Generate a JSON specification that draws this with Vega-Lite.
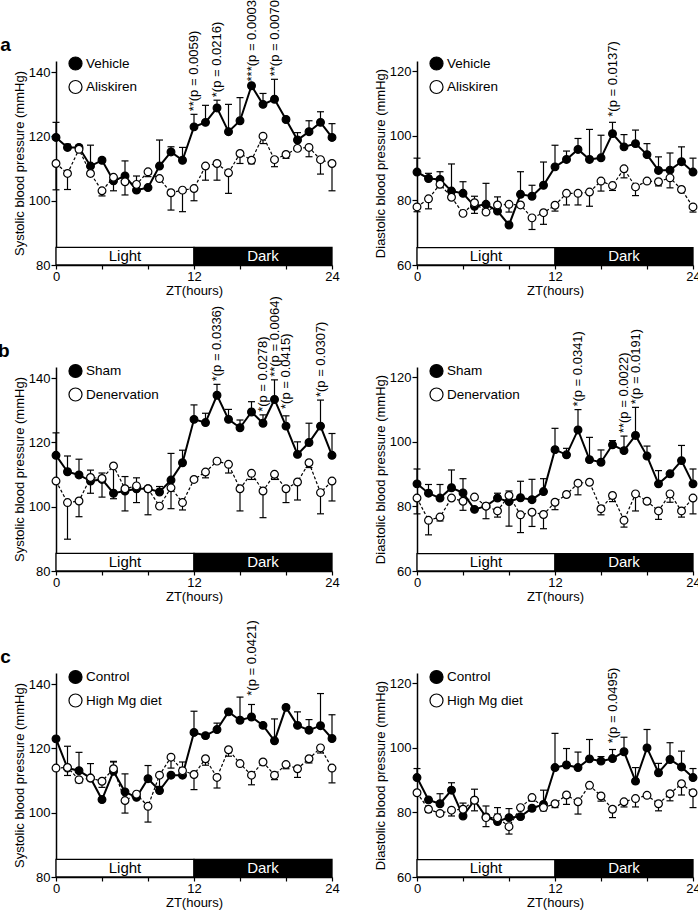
{
"$schema": "https://vega.github.io/schema/vega-lite/v6.json",
"background": "white",
"autosize": {"type": "none"},
"padding": {"left": 56, "top": 61, "right": 642, "bottom": 855},
"columns": 2,
"spacing": {"row": 102, "column": 85},
"bounds": "flush",
"resolve": {"scale": {"x": "independent", "y": "independent", "fill": "independent"}, "legend": {"fill": "independent"}},
"datasets": {
"phase": [{"start": 0, "end": 12, "phase": "Light"}, {"start": 12, "end": 24, "phase": "Dark"}],
"aL": [
{"h":0,"g":"Vehicle","v":119.7,"e":124.4},{"h":1,"g":"Vehicle","v":116.6,"e":117.6},{"h":2,"g":"Vehicle","v":116.6,"e":117.3},{"h":3,"g":"Vehicle","v":110.8,"e":117.3},{"h":4,"g":"Vehicle","v":112.6,"e":113.2},{"h":5,"g":"Vehicle","v":106.2,"e":107},{"h":6,"g":"Vehicle","v":107.7,"e":112.4},{"h":7,"g":"Vehicle","v":103.3,"e":103.3},{"h":8,"g":"Vehicle","v":104.1,"e":104.1},{"h":9,"g":"Vehicle","v":110.8,"e":118.9},{"h":10,"g":"Vehicle","v":115.2,"e":116.8},{"h":11,"g":"Vehicle","v":112.6,"e":116.6},{"h":12,"g":"Vehicle","v":123,"e":126.9},{"h":13,"g":"Vehicle","v":124.4,"e":129.7},{"h":14,"g":"Vehicle","v":128.9,"e":131.3},{"h":15,"g":"Vehicle","v":121.5,"e":130},{"h":16,"g":"Vehicle","v":124.9,"e":132.1},{"h":17,"g":"Vehicle","v":135.8,"e":135.8},{"h":18,"g":"Vehicle","v":130,"e":133.4},{"h":19,"g":"Vehicle","v":131.6,"e":137.8},{"h":20,"g":"Vehicle","v":125.3,"e":125.3},{"h":21,"g":"Vehicle","v":118.9,"e":121.2},{"h":22,"g":"Vehicle","v":121.5,"e":124.9},{"h":23,"g":"Vehicle","v":124.4,"e":127.7},{"h":24,"g":"Vehicle","v":119.7,"e":124},
{"h":0,"g":"Aliskiren","v":111.6,"e":103.4},{"h":1,"g":"Aliskiren","v":108.5,"e":103.5},{"h":2,"g":"Aliskiren","v":116,"e":115.3},{"h":3,"g":"Aliskiren","v":108.5,"e":107.8},{"h":4,"g":"Aliskiren","v":103.1,"e":101.5},{"h":5,"g":"Aliskiren","v":107.3,"e":103.1},{"h":6,"g":"Aliskiren","v":105.9,"e":101.8},{"h":7,"g":"Aliskiren","v":105.1,"e":107.7},{"h":8,"g":"Aliskiren","v":109,"e":107.5},{"h":9,"g":"Aliskiren","v":106.9,"e":106.9},{"h":10,"g":"Aliskiren","v":102.5,"e":97.1},{"h":11,"g":"Aliskiren","v":103.3,"e":96.6},{"h":12,"g":"Aliskiren","v":103.8,"e":100},{"h":13,"g":"Aliskiren","v":110.8,"e":106.4},{"h":14,"g":"Aliskiren","v":111.6,"e":106.4},{"h":15,"g":"Aliskiren","v":108.7,"e":102.3},{"h":16,"g":"Aliskiren","v":114.7,"e":111.6},{"h":17,"g":"Aliskiren","v":112.6,"e":111.5},{"h":18,"g":"Aliskiren","v":120.1,"e":117.8},{"h":19,"g":"Aliskiren","v":112.8,"e":110.6},{"h":20,"g":"Aliskiren","v":114.4,"e":113.2},{"h":21,"g":"Aliskiren","v":116.3,"e":116.3},{"h":22,"g":"Aliskiren","v":116.6,"e":113.7},{"h":23,"g":"Aliskiren","v":112.8,"e":108.3},{"h":24,"g":"Aliskiren","v":111.6,"e":103.1}],
"aLa": [{"h":12,"y":126.9,"t":"**(p = 0.0059)"},{"h":14,"y":131.3,"t":"*(p = 0.0216)"},{"h":17,"y":136.2,"t":"***(p = 0.0003)"},{"h":19,"y":137.8,"t":"**(p = 0.0070)"}],
"aR": [
{"h":0,"g":"Vehicle","v":88.8,"e":93.1},{"h":1,"g":"Vehicle","v":86.8,"e":88.4},{"h":2,"g":"Vehicle","v":86.5,"e":88.9},{"h":3,"g":"Vehicle","v":82.9,"e":91.3},{"h":4,"g":"Vehicle","v":82.2,"e":85.8},{"h":5,"g":"Vehicle","v":78.2,"e":81.3},{"h":6,"g":"Vehicle","v":78.8,"e":85.3},{"h":7,"g":"Vehicle","v":76.7,"e":81.1},{"h":8,"g":"Vehicle","v":72.4,"e":72.4},{"h":9,"g":"Vehicle","v":81.9,"e":88.9},{"h":10,"g":"Vehicle","v":81.3,"e":84.7},{"h":11,"g":"Vehicle","v":84.7,"e":91.9},{"h":12,"g":"Vehicle","v":90.4,"e":97.1},{"h":13,"g":"Vehicle","v":92.7,"e":95.3},{"h":14,"g":"Vehicle","v":95.8,"e":99.2},{"h":15,"g":"Vehicle","v":92.7,"e":102},{"h":16,"g":"Vehicle","v":93.2,"e":100.2},{"h":17,"g":"Vehicle","v":100.7,"e":104.2},{"h":18,"g":"Vehicle","v":96.6,"e":100.4},{"h":19,"g":"Vehicle","v":97.6,"e":101.8},{"h":20,"g":"Vehicle","v":94.2,"e":97.6},{"h":21,"g":"Vehicle","v":89.3,"e":93.5},{"h":22,"g":"Vehicle","v":89.4,"e":94.7},{"h":23,"g":"Vehicle","v":92,"e":96.6},{"h":24,"g":"Vehicle","v":88.8,"e":93.1},
{"h":0,"g":"Aliskiren","v":78,"e":76.5},{"h":1,"g":"Aliskiren","v":80.5,"e":77.4},{"h":2,"g":"Aliskiren","v":85,"e":84},{"h":3,"g":"Aliskiren","v":81,"e":80.5},{"h":4,"g":"Aliskiren","v":76,"e":75.5},{"h":5,"g":"Aliskiren","v":79.3,"e":76},{"h":6,"g":"Aliskiren","v":76.4,"e":76},{"h":7,"g":"Aliskiren","v":78.6,"e":76.7},{"h":8,"g":"Aliskiren","v":78.8,"e":76.4},{"h":9,"g":"Aliskiren","v":78.6,"e":78.6},{"h":10,"g":"Aliskiren","v":74.6,"e":71},{"h":11,"g":"Aliskiren","v":76.2,"e":72.6},{"h":12,"g":"Aliskiren","v":78.5,"e":76.7},{"h":13,"g":"Aliskiren","v":82.2,"e":78.6},{"h":14,"g":"Aliskiren","v":82.2,"e":78.6},{"h":15,"g":"Aliskiren","v":82.6,"e":78.2},{"h":16,"g":"Aliskiren","v":86,"e":82.9},{"h":17,"g":"Aliskiren","v":84.6,"e":83.1},{"h":18,"g":"Aliskiren","v":89.8,"e":87},{"h":19,"g":"Aliskiren","v":84.2,"e":81.5},{"h":20,"g":"Aliskiren","v":86,"e":85.5},{"h":21,"g":"Aliskiren","v":85.8,"e":84.5},{"h":22,"g":"Aliskiren","v":87,"e":83.9},{"h":23,"g":"Aliskiren","v":83.4,"e":83},{"h":24,"g":"Aliskiren","v":78,"e":76.4}],
"aRa": [{"h":17,"y":105,"t":"*(p = 0.0137)"}],
"bL": [
{"h":0,"g":"Sham","v":116,"e":123},{"h":1,"g":"Sham","v":110.9,"e":115.8},{"h":2,"g":"Sham","v":109.9,"e":114.8},{"h":3,"g":"Sham","v":108,"e":111.4},{"h":4,"g":"Sham","v":108.5,"e":110.5},{"h":5,"g":"Sham","v":104.2,"e":104.2},{"h":6,"g":"Sham","v":104.9,"e":98.7},{"h":7,"g":"Sham","v":105.6,"e":109},{"h":8,"g":"Sham","v":105.6,"e":105.6},{"h":9,"g":"Sham","v":104.6,"e":106.3},{"h":10,"g":"Sham","v":108.3,"e":116.6},{"h":11,"g":"Sham","v":113.7,"e":117.6},{"h":12,"g":"Sham","v":127.2,"e":131.7},{"h":13,"g":"Sham","v":126.2,"e":129.1},{"h":14,"g":"Sham","v":134.7,"e":138.1},{"h":15,"g":"Sham","v":127.2,"e":130.3},{"h":16,"g":"Sham","v":124.6,"e":127},{"h":17,"g":"Sham","v":129.5,"e":132.7},{"h":18,"g":"Sham","v":126,"e":128.6},{"h":19,"g":"Sham","v":133.4,"e":139.5},{"h":20,"g":"Sham","v":125.1,"e":128.3},{"h":21,"g":"Sham","v":116.3,"e":120.2},{"h":22,"g":"Sham","v":120,"e":126},{"h":23,"g":"Sham","v":125.1,"e":133.2},{"h":24,"g":"Sham","v":116,"e":122.8},
{"h":0,"g":"Denervation","v":108,"e":108},{"h":1,"g":"Denervation","v":101.3,"e":89.9},{"h":2,"g":"Denervation","v":101.8,"e":96.9},{"h":3,"g":"Denervation","v":109.1,"e":104.2},{"h":4,"g":"Denervation","v":108.8,"e":103},{"h":5,"g":"Denervation","v":112.7,"e":102.5},{"h":6,"g":"Denervation","v":105.6,"e":109.4},{"h":7,"g":"Denervation","v":106.5,"e":101.3},{"h":8,"g":"Denervation","v":105.6,"e":97.5},{"h":9,"g":"Denervation","v":100.2,"e":100.2},{"h":10,"g":"Denervation","v":105.9,"e":99.4},{"h":11,"g":"Denervation","v":101.3,"e":99},{"h":12,"g":"Denervation","v":108.5,"e":108.5},{"h":13,"g":"Denervation","v":110.8,"e":109},{"h":14,"g":"Denervation","v":114.2,"e":114.2},{"h":15,"g":"Denervation","v":113.2,"e":110.5},{"h":16,"g":"Denervation","v":105.6,"e":98.7},{"h":17,"g":"Denervation","v":110.4,"e":108.5},{"h":18,"g":"Denervation","v":104.9,"e":96.6},{"h":19,"g":"Denervation","v":110.1,"e":108.5},{"h":20,"g":"Denervation","v":105.6,"e":101.3},{"h":21,"g":"Denervation","v":107.7,"e":102.1},{"h":22,"g":"Denervation","v":113.7,"e":112.2},{"h":23,"g":"Denervation","v":104.4,"e":97.8},{"h":24,"g":"Denervation","v":108,"e":101.8}],
"bLa": [{"h":14,"y":138.1,"t":"*(p = 0.0336)"},{"h":18,"y":128.6,"t":"*(p = 0.0278)"},{"h":19,"y":139.5,"t":"**(p = 0.0064)"},{"h":20,"y":129.5,"t":"*(p = 0.0415)"},{"h":23,"y":133.2,"t":"*(p = 0.0307)"}],
"bR": [
{"h":0,"g":"Sham","v":87,"e":91.6},{"h":1,"g":"Sham","v":84.1,"e":86.8},{"h":2,"g":"Sham","v":82.6,"e":86.8},{"h":3,"g":"Sham","v":85.8,"e":91.3},{"h":4,"g":"Sham","v":84.2,"e":88.6},{"h":5,"g":"Sham","v":79.1,"e":79.1},{"h":6,"g":"Sham","v":80.1,"e":80.1},{"h":7,"g":"Sham","v":82.6,"e":84.1},{"h":8,"g":"Sham","v":81.5,"e":73.9},{"h":9,"g":"Sham","v":82.7,"e":87.8},{"h":10,"g":"Sham","v":82.1,"e":88.4},{"h":11,"g":"Sham","v":84.6,"e":88.6},{"h":12,"g":"Sham","v":97.6,"e":104.2},{"h":13,"g":"Sham","v":96,"e":98},{"h":14,"g":"Sham","v":103.7,"e":110},{"h":15,"g":"Sham","v":94.5,"e":101.4},{"h":16,"g":"Sham","v":93.7,"e":97.5},{"h":17,"g":"Sham","v":99.1,"e":100.4},{"h":18,"g":"Sham","v":97.3,"e":101.8},{"h":19,"g":"Sham","v":102,"e":110.7},{"h":20,"g":"Sham","v":95.6,"e":98.7},{"h":21,"g":"Sham","v":87,"e":91.1},{"h":22,"g":"Sham","v":90.1,"e":90.6},{"h":23,"g":"Sham","v":94.2,"e":98.9},{"h":24,"g":"Sham","v":87,"e":91.6},
{"h":0,"g":"Denervation","v":82.6,"e":77.7},{"h":1,"g":"Denervation","v":75.7,"e":71.2},{"h":2,"g":"Denervation","v":76.7,"e":75.5},{"h":3,"g":"Denervation","v":82.6,"e":82.6},{"h":4,"g":"Denervation","v":81.6,"e":78.8},{"h":5,"g":"Denervation","v":82.9,"e":82.9},{"h":6,"g":"Denervation","v":80.1,"e":76.2},{"h":7,"g":"Denervation","v":78.6,"e":76.7},{"h":8,"g":"Denervation","v":83.4,"e":84.8},{"h":9,"g":"Denervation","v":77.4,"e":71.9},{"h":10,"g":"Denervation","v":78.2,"e":73.8},{"h":11,"g":"Denervation","v":77.5,"e":73.1},{"h":12,"g":"Denervation","v":81.3,"e":79},{"h":13,"g":"Denervation","v":83.7,"e":83.7},{"h":14,"g":"Denervation","v":87.2,"e":83.6},{"h":15,"g":"Denervation","v":87.5,"e":87.5},{"h":16,"g":"Denervation","v":79.3,"e":77.4},{"h":17,"g":"Denervation","v":83.4,"e":81.5},{"h":18,"g":"Denervation","v":75.7,"e":73.6},{"h":19,"g":"Denervation","v":83.9,"e":78.6},{"h":20,"g":"Denervation","v":81.6,"e":81.6},{"h":21,"g":"Denervation","v":78.6,"e":76},{"h":22,"g":"Denervation","v":83.9,"e":81.3},{"h":23,"g":"Denervation","v":78.6,"e":76.7},{"h":24,"g":"Denervation","v":82.6,"e":77.7}],
"bRa": [{"h":14,"y":110,"t":"*(p = 0.0341)"},{"h":18,"y":101.8,"t":"**(p = 0.0022)"},{"h":19,"y":110.7,"t":"*(p = 0.0191)"}],
"cL": [
{"h":0,"g":"Control","v":123,"e":123},{"h":1,"g":"Control","v":113.9,"e":120.7},{"h":2,"g":"Control","v":113.1,"e":118.8},{"h":3,"g":"Control","v":110.8,"e":115.3},{"h":4,"g":"Control","v":104.1,"e":104.1},{"h":5,"g":"Control","v":112.9,"e":115.8},{"h":6,"g":"Control","v":106.5,"e":112.1},{"h":7,"g":"Control","v":104.8,"e":104.8},{"h":8,"g":"Control","v":110.6,"e":114.7},{"h":9,"g":"Control","v":106.9,"e":106.9},{"h":10,"g":"Control","v":111.7,"e":111.7},{"h":11,"g":"Control","v":111.7,"e":111.7},{"h":12,"g":"Control","v":125,"e":131.6},{"h":13,"g":"Control","v":124,"e":124},{"h":14,"g":"Control","v":125.9,"e":127.9},{"h":15,"g":"Control","v":131.4,"e":131.4},{"h":16,"g":"Control","v":128.8,"e":136},{"h":17,"g":"Control","v":129.8,"e":133.7},{"h":18,"g":"Control","v":127.2,"e":127.2},{"h":19,"g":"Control","v":122.4,"e":129.2},{"h":20,"g":"Control","v":132.8,"e":133.4},{"h":21,"g":"Control","v":127.2,"e":131.4},{"h":22,"g":"Control","v":125.7,"e":129},{"h":23,"g":"Control","v":127.1,"e":137.1},{"h":24,"g":"Control","v":123.1,"e":130.5},
{"h":0,"g":"High Mg diet","v":113.9,"e":113.9},{"h":1,"g":"High Mg diet","v":114.1,"e":111.6},{"h":2,"g":"High Mg diet","v":110.3,"e":109.3},{"h":3,"g":"High Mg diet","v":110.8,"e":110.8},{"h":4,"g":"High Mg diet","v":109.8,"e":107.9},{"h":5,"g":"High Mg diet","v":113.7,"e":116},{"h":6,"g":"High Mg diet","v":103.8,"e":99.9},{"h":7,"g":"High Mg diet","v":105.8,"e":105.8},{"h":8,"g":"High Mg diet","v":102,"e":97.1},{"h":9,"g":"High Mg diet","v":111.7,"e":108.2},{"h":10,"g":"High Mg diet","v":117.3,"e":113.9},{"h":11,"g":"High Mg diet","v":113.1,"e":115.8},{"h":12,"g":"High Mg diet","v":111.9,"e":107.2},{"h":13,"g":"High Mg diet","v":116.8,"e":114.8},{"h":14,"g":"High Mg diet","v":111,"e":107.7},{"h":15,"g":"High Mg diet","v":119.6,"e":117.6},{"h":16,"g":"High Mg diet","v":115.3,"e":115.3},{"h":17,"g":"High Mg diet","v":111.7,"e":108.7},{"h":18,"g":"High Mg diet","v":115.8,"e":115.8},{"h":19,"g":"High Mg diet","v":111.7,"e":110.3},{"h":20,"g":"High Mg diet","v":115,"e":113.7},{"h":21,"g":"High Mg diet","v":113.7,"e":111},{"h":22,"g":"High Mg diet","v":116.8,"e":115.5},{"h":23,"g":"High Mg diet","v":120.2,"e":118.6},{"h":24,"g":"High Mg diet","v":113.9,"e":109.3}],
"cLa": [{"h":17,"y":135.5,"t":"*(p = 0.0421)"}],
"cR": [
{"h":0,"g":"Control","v":90.8,"e":93.6},{"h":1,"g":"Control","v":83.9,"e":83.9},{"h":2,"g":"Control","v":82.7,"e":85.8},{"h":3,"g":"Control","v":86.9,"e":89.2},{"h":4,"g":"Control","v":78.9,"e":82.9},{"h":5,"g":"Control","v":83.8,"e":87.2},{"h":6,"g":"Control","v":78.6,"e":82},{"h":7,"g":"Control","v":77.2,"e":81.5},{"h":8,"g":"Control","v":78.4,"e":81.2},{"h":9,"g":"Control","v":78.7,"e":78.7},{"h":10,"g":"Control","v":81.3,"e":81.3},{"h":11,"g":"Control","v":82.5,"e":86.9},{"h":12,"g":"Control","v":93.9,"e":104.5},{"h":13,"g":"Control","v":94.7,"e":99.8},{"h":14,"g":"Control","v":93.9,"e":98.7},{"h":15,"g":"Control","v":96.6,"e":102.6},{"h":16,"g":"Control","v":95.9,"e":97.3},{"h":17,"g":"Control","v":96.7,"e":99.5},{"h":18,"g":"Control","v":98.8,"e":103.3},{"h":19,"g":"Control","v":89.7,"e":93.9},{"h":20,"g":"Control","v":100,"e":105.7},{"h":21,"g":"Control","v":92.3,"e":95.2},{"h":22,"g":"Control","v":96.4,"e":101.6},{"h":23,"g":"Control","v":94.1,"e":99},{"h":24,"g":"Control","v":90.8,"e":93.6},
{"h":0,"g":"High Mg diet","v":86.1,"e":86.1},{"h":1,"g":"High Mg diet","v":81,"e":80},{"h":2,"g":"High Mg diet","v":79.7,"e":79},{"h":3,"g":"High Mg diet","v":80.7,"e":78.9},{"h":4,"g":"High Mg diet","v":81,"e":78.5},{"h":5,"g":"High Mg diet","v":83.8,"e":80.5},{"h":6,"g":"High Mg diet","v":78.4,"e":75.6},{"h":7,"g":"High Mg diet","v":78.4,"e":79.5},{"h":8,"g":"High Mg diet","v":75.6,"e":73.3},{"h":9,"g":"High Mg diet","v":81.5,"e":81.5},{"h":10,"g":"High Mg diet","v":84.6,"e":83.5},{"h":11,"g":"High Mg diet","v":81.5,"e":80.5},{"h":12,"g":"High Mg diet","v":82.7,"e":81.5},{"h":13,"g":"High Mg diet","v":85.4,"e":82.5},{"h":14,"g":"High Mg diet","v":83.3,"e":79.5},{"h":15,"g":"High Mg diet","v":88.4,"e":88.4},{"h":16,"g":"High Mg diet","v":85.1,"e":83.5},{"h":17,"g":"High Mg diet","v":81,"e":78.4},{"h":18,"g":"High Mg diet","v":83.3,"e":81.7},{"h":19,"g":"High Mg diet","v":84.3,"e":81.7},{"h":20,"g":"High Mg diet","v":85.3,"e":85.3},{"h":21,"g":"High Mg diet","v":82.7,"e":80.5},{"h":22,"g":"High Mg diet","v":85.8,"e":83.6},{"h":23,"g":"High Mg diet","v":88.9,"e":85.4},{"h":24,"g":"High Mg diet","v":86.1,"e":81.5}],
"cRa": [{"h":17,"y":100.5,"t":"*(p = 0.0495)"}]
},
"concat": [
{"width": 276, "height": 204, "data": {"name": "aL"},
 "title": {"text": "a", "orient": "left", "anchor": "end", "frame": "group", "angle": 0, "align": "right", "baseline": "bottom", "offset": 1, "dx": 9, "dy": -6, "fontSize": 19, "fontWeight": "bold", "color": "black"},
 "layer": [
  {"data": {"name": "phase"}, "mark": {"type": "rect", "stroke": "black", "strokeWidth": 1.3},
   "encoding": {"x": {"field": "start", "type": "quantitative", "scale": {"domain": [0, 24], "nice": false, "zero": false}, "axis": {"values": [0,4,8,12,16,20,24], "labelExpr": "datum.value % 12 == 0 ? datum.label : ''", "title": "ZT(hours)", "tickSize": 4, "labelPadding": 1, "titlePadding": 1, "labelFlush": false, "labelOverlap": false}},
    "x2": {"field": "end"},
    "y": {"datum": 80, "type": "quantitative", "scale": {"domain": [80, 143.5], "nice": false, "zero": false}, "axis": {"values": [80,90,100,110,120,130,140], "labelExpr": "datum.value % 20 == 0 ? datum.label : ''", "title": "Systolic blood pressure  (mmHg)", "titlePadding": 2, "labelOverlap": false}},
    "y2": {"datum": 85.5},
    "fill": {"condition": {"test": "datum.phase == 'Dark'", "value": "black"}, "value": "white"}}},
  {"data": {"name": "phase"}, "transform": [{"calculate": "(datum.start + datum.end) / 2", "as": "mid"}], "mark": {"type": "text", "fontSize": 15, "baseline": "middle"},
   "encoding": {"x": {"field": "mid", "type": "quantitative"}, "y": {"datum": 82.75, "type": "quantitative"}, "text": {"field": "phase"}, "color": {"condition": {"test": "datum.phase == 'Dark'", "value": "white"}, "value": "black"}}},
  {"transform": [{"filter": "datum.g == 'Vehicle'"}], "mark": {"type": "line", "color": "black", "strokeWidth": 2}, "encoding": {"x": {"field": "h", "type": "quantitative"}, "y": {"field": "v", "type": "quantitative"}}},
  {"transform": [{"filter": "datum.g == 'Aliskiren'"}], "mark": {"type": "line", "color": "black", "strokeWidth": 1.2, "strokeDash": [3, 2]}, "encoding": {"x": {"field": "h", "type": "quantitative"}, "y": {"field": "v", "type": "quantitative"}}},
  {"mark": {"type": "rule", "color": "black", "strokeWidth": 1.2}, "encoding": {"x": {"field": "h", "type": "quantitative"}, "y": {"field": "v", "type": "quantitative"}, "y2": {"field": "e"}}},
  {"mark": {"type": "tick", "color": "black", "orient": "horizontal", "size": 7, "thickness": 1.2, "opacity": 1}, "encoding": {"x": {"field": "h", "type": "quantitative"}, "y": {"field": "e", "type": "quantitative"}}},
  {"mark": {"type": "point", "shape": "circle", "filled": true, "size": 60, "stroke": "black", "strokeWidth": 1.2, "opacity": 1}, "encoding": {"x": {"field": "h", "type": "quantitative"}, "y": {"field": "v", "type": "quantitative"}, "fill": {"field": "g", "type": "nominal", "scale": {"domain": ["Vehicle", "Aliskiren"], "range": ["black", "white"]}, "legend": {"title": null, "orient": "none", "legendX": 12, "legendY": -5}}}},
  {"data": {"name": "aLa"}, "mark": {"type": "text", "angle": 270, "align": "left", "baseline": "middle", "dx": 3, "fontSize": 13}, "encoding": {"x": {"field": "h", "type": "quantitative"}, "y": {"field": "y", "type": "quantitative"}, "text": {"field": "t"}}}
 ]},
{"width": 276, "height": 204, "data": {"name": "aR"},
 "layer": [
  {"data": {"name": "phase"}, "mark": {"type": "rect", "stroke": "black", "strokeWidth": 1.3},
   "encoding": {"x": {"field": "start", "type": "quantitative", "scale": {"domain": [0, 24], "nice": false, "zero": false}, "axis": {"values": [0,4,8,12,16,20,24], "labelExpr": "datum.value % 12 == 0 ? datum.label : ''", "title": "ZT(hours)", "tickSize": 4, "labelPadding": 1, "titlePadding": 1, "labelFlush": false, "labelOverlap": false}},
    "x2": {"field": "end"},
    "y": {"datum": 60, "type": "quantitative", "scale": {"domain": [60, 123.2], "nice": false, "zero": false}, "axis": {"values": [60,70,80,90,100,110,120], "labelExpr": "datum.value % 20 == 0 ? datum.label : ''", "title": "Diastolic blood pressure (mmHg)", "titlePadding": 2, "labelOverlap": false}},
    "y2": {"datum": 65.4},
    "fill": {"condition": {"test": "datum.phase == 'Dark'", "value": "black"}, "value": "white"}}},
  {"data": {"name": "phase"}, "transform": [{"calculate": "(datum.start + datum.end) / 2", "as": "mid"}], "mark": {"type": "text", "fontSize": 15, "baseline": "middle"},
   "encoding": {"x": {"field": "mid", "type": "quantitative"}, "y": {"datum": 62.7, "type": "quantitative"}, "text": {"field": "phase"}, "color": {"condition": {"test": "datum.phase == 'Dark'", "value": "white"}, "value": "black"}}},
  {"transform": [{"filter": "datum.g == 'Vehicle'"}], "mark": {"type": "line", "color": "black", "strokeWidth": 2}, "encoding": {"x": {"field": "h", "type": "quantitative"}, "y": {"field": "v", "type": "quantitative"}}},
  {"transform": [{"filter": "datum.g == 'Aliskiren'"}], "mark": {"type": "line", "color": "black", "strokeWidth": 1.2, "strokeDash": [3, 2]}, "encoding": {"x": {"field": "h", "type": "quantitative"}, "y": {"field": "v", "type": "quantitative"}}},
  {"mark": {"type": "rule", "color": "black", "strokeWidth": 1.2}, "encoding": {"x": {"field": "h", "type": "quantitative"}, "y": {"field": "v", "type": "quantitative"}, "y2": {"field": "e"}}},
  {"mark": {"type": "tick", "color": "black", "orient": "horizontal", "size": 7, "thickness": 1.2, "opacity": 1}, "encoding": {"x": {"field": "h", "type": "quantitative"}, "y": {"field": "e", "type": "quantitative"}}},
  {"mark": {"type": "point", "shape": "circle", "filled": true, "size": 60, "stroke": "black", "strokeWidth": 1.2, "opacity": 1}, "encoding": {"x": {"field": "h", "type": "quantitative"}, "y": {"field": "v", "type": "quantitative"}, "fill": {"field": "g", "type": "nominal", "scale": {"domain": ["Vehicle", "Aliskiren"], "range": ["black", "white"]}, "legend": {"title": null, "orient": "none", "legendX": 12, "legendY": -5}}}},
  {"data": {"name": "aRa"}, "mark": {"type": "text", "angle": 270, "align": "left", "baseline": "middle", "dx": 3, "fontSize": 13}, "encoding": {"x": {"field": "h", "type": "quantitative"}, "y": {"field": "y", "type": "quantitative"}, "text": {"field": "t"}}}
 ]},
{"width": 276, "height": 204, "data": {"name": "bL"},
 "title": {"text": "b", "orient": "left", "anchor": "end", "frame": "group", "angle": 0, "align": "right", "baseline": "bottom", "offset": 1, "dx": 9, "dy": -6, "fontSize": 19, "fontWeight": "bold", "color": "black"},
 "layer": [
  {"data": {"name": "phase"}, "mark": {"type": "rect", "stroke": "black", "strokeWidth": 1.3},
   "encoding": {"x": {"field": "start", "type": "quantitative", "scale": {"domain": [0, 24], "nice": false, "zero": false}, "axis": {"values": [0,4,8,12,16,20,24], "labelExpr": "datum.value % 12 == 0 ? datum.label : ''", "title": "ZT(hours)", "tickSize": 4, "labelPadding": 1, "titlePadding": 1, "labelFlush": false, "labelOverlap": false}},
    "x2": {"field": "end"},
    "y": {"datum": 80, "type": "quantitative", "scale": {"domain": [80, 143.5], "nice": false, "zero": false}, "axis": {"values": [80,90,100,110,120,130,140], "labelExpr": "datum.value % 20 == 0 ? datum.label : ''", "title": "Systolic blood pressure  (mmHg)", "titlePadding": 2, "labelOverlap": false}},
    "y2": {"datum": 85.5},
    "fill": {"condition": {"test": "datum.phase == 'Dark'", "value": "black"}, "value": "white"}}},
  {"data": {"name": "phase"}, "transform": [{"calculate": "(datum.start + datum.end) / 2", "as": "mid"}], "mark": {"type": "text", "fontSize": 15, "baseline": "middle"},
   "encoding": {"x": {"field": "mid", "type": "quantitative"}, "y": {"datum": 82.75, "type": "quantitative"}, "text": {"field": "phase"}, "color": {"condition": {"test": "datum.phase == 'Dark'", "value": "white"}, "value": "black"}}},
  {"transform": [{"filter": "datum.g == 'Sham'"}], "mark": {"type": "line", "color": "black", "strokeWidth": 2}, "encoding": {"x": {"field": "h", "type": "quantitative"}, "y": {"field": "v", "type": "quantitative"}}},
  {"transform": [{"filter": "datum.g == 'Denervation'"}], "mark": {"type": "line", "color": "black", "strokeWidth": 1.2, "strokeDash": [3, 2]}, "encoding": {"x": {"field": "h", "type": "quantitative"}, "y": {"field": "v", "type": "quantitative"}}},
  {"mark": {"type": "rule", "color": "black", "strokeWidth": 1.2}, "encoding": {"x": {"field": "h", "type": "quantitative"}, "y": {"field": "v", "type": "quantitative"}, "y2": {"field": "e"}}},
  {"mark": {"type": "tick", "color": "black", "orient": "horizontal", "size": 7, "thickness": 1.2, "opacity": 1}, "encoding": {"x": {"field": "h", "type": "quantitative"}, "y": {"field": "e", "type": "quantitative"}}},
  {"mark": {"type": "point", "shape": "circle", "filled": true, "size": 60, "stroke": "black", "strokeWidth": 1.2, "opacity": 1}, "encoding": {"x": {"field": "h", "type": "quantitative"}, "y": {"field": "v", "type": "quantitative"}, "fill": {"field": "g", "type": "nominal", "scale": {"domain": ["Sham", "Denervation"], "range": ["black", "white"]}, "legend": {"title": null, "orient": "none", "legendX": 12, "legendY": -3.5}}}},
  {"data": {"name": "bLa"}, "mark": {"type": "text", "angle": 270, "align": "left", "baseline": "middle", "dx": 3, "fontSize": 13}, "encoding": {"x": {"field": "h", "type": "quantitative"}, "y": {"field": "y", "type": "quantitative"}, "text": {"field": "t"}}}
 ]},
{"width": 276, "height": 204, "data": {"name": "bR"},
 "layer": [
  {"data": {"name": "phase"}, "mark": {"type": "rect", "stroke": "black", "strokeWidth": 1.3},
   "encoding": {"x": {"field": "start", "type": "quantitative", "scale": {"domain": [0, 24], "nice": false, "zero": false}, "axis": {"values": [0,4,8,12,16,20,24], "labelExpr": "datum.value % 12 == 0 ? datum.label : ''", "title": "ZT(hours)", "tickSize": 4, "labelPadding": 1, "titlePadding": 1, "labelFlush": false, "labelOverlap": false}},
    "x2": {"field": "end"},
    "y": {"datum": 60, "type": "quantitative", "scale": {"domain": [60, 123.2], "nice": false, "zero": false}, "axis": {"values": [60,70,80,90,100,110,120], "labelExpr": "datum.value % 20 == 0 ? datum.label : ''", "title": "Diastolic blood pressure (mmHg)", "titlePadding": 2, "labelOverlap": false}},
    "y2": {"datum": 65.4},
    "fill": {"condition": {"test": "datum.phase == 'Dark'", "value": "black"}, "value": "white"}}},
  {"data": {"name": "phase"}, "transform": [{"calculate": "(datum.start + datum.end) / 2", "as": "mid"}], "mark": {"type": "text", "fontSize": 15, "baseline": "middle"},
   "encoding": {"x": {"field": "mid", "type": "quantitative"}, "y": {"datum": 62.7, "type": "quantitative"}, "text": {"field": "phase"}, "color": {"condition": {"test": "datum.phase == 'Dark'", "value": "white"}, "value": "black"}}},
  {"transform": [{"filter": "datum.g == 'Sham'"}], "mark": {"type": "line", "color": "black", "strokeWidth": 2}, "encoding": {"x": {"field": "h", "type": "quantitative"}, "y": {"field": "v", "type": "quantitative"}}},
  {"transform": [{"filter": "datum.g == 'Denervation'"}], "mark": {"type": "line", "color": "black", "strokeWidth": 1.2, "strokeDash": [3, 2]}, "encoding": {"x": {"field": "h", "type": "quantitative"}, "y": {"field": "v", "type": "quantitative"}}},
  {"mark": {"type": "rule", "color": "black", "strokeWidth": 1.2}, "encoding": {"x": {"field": "h", "type": "quantitative"}, "y": {"field": "v", "type": "quantitative"}, "y2": {"field": "e"}}},
  {"mark": {"type": "tick", "color": "black", "orient": "horizontal", "size": 7, "thickness": 1.2, "opacity": 1}, "encoding": {"x": {"field": "h", "type": "quantitative"}, "y": {"field": "e", "type": "quantitative"}}},
  {"mark": {"type": "point", "shape": "circle", "filled": true, "size": 60, "stroke": "black", "strokeWidth": 1.2, "opacity": 1}, "encoding": {"x": {"field": "h", "type": "quantitative"}, "y": {"field": "v", "type": "quantitative"}, "fill": {"field": "g", "type": "nominal", "scale": {"domain": ["Sham", "Denervation"], "range": ["black", "white"]}, "legend": {"title": null, "orient": "none", "legendX": 12, "legendY": -3.5}}}},
  {"data": {"name": "bRa"}, "mark": {"type": "text", "angle": 270, "align": "left", "baseline": "middle", "dx": 3, "fontSize": 13}, "encoding": {"x": {"field": "h", "type": "quantitative"}, "y": {"field": "y", "type": "quantitative"}, "text": {"field": "t"}}}
 ]},
{"width": 276, "height": 204, "data": {"name": "cL"},
 "title": {"text": "c", "orient": "left", "anchor": "end", "frame": "group", "angle": 0, "align": "right", "baseline": "bottom", "offset": 1, "dx": 9, "dy": -6, "fontSize": 19, "fontWeight": "bold", "color": "black"},
 "layer": [
  {"data": {"name": "phase"}, "mark": {"type": "rect", "stroke": "black", "strokeWidth": 1.3},
   "encoding": {"x": {"field": "start", "type": "quantitative", "scale": {"domain": [0, 24], "nice": false, "zero": false}, "axis": {"values": [0,4,8,12,16,20,24], "labelExpr": "datum.value % 12 == 0 ? datum.label : ''", "title": "ZT(hours)", "tickSize": 4, "labelPadding": 1, "titlePadding": 1, "labelFlush": false, "labelOverlap": false}},
    "x2": {"field": "end"},
    "y": {"datum": 80, "type": "quantitative", "scale": {"domain": [80, 143.5], "nice": false, "zero": false}, "axis": {"values": [80,90,100,110,120,130,140], "labelExpr": "datum.value % 20 == 0 ? datum.label : ''", "title": "Systolic blood pressure  (mmHg)", "titlePadding": 2, "labelOverlap": false}},
    "y2": {"datum": 85.5},
    "fill": {"condition": {"test": "datum.phase == 'Dark'", "value": "black"}, "value": "white"}}},
  {"data": {"name": "phase"}, "transform": [{"calculate": "(datum.start + datum.end) / 2", "as": "mid"}], "mark": {"type": "text", "fontSize": 15, "baseline": "middle"},
   "encoding": {"x": {"field": "mid", "type": "quantitative"}, "y": {"datum": 82.75, "type": "quantitative"}, "text": {"field": "phase"}, "color": {"condition": {"test": "datum.phase == 'Dark'", "value": "white"}, "value": "black"}}},
  {"transform": [{"filter": "datum.g == 'Control'"}], "mark": {"type": "line", "color": "black", "strokeWidth": 2}, "encoding": {"x": {"field": "h", "type": "quantitative"}, "y": {"field": "v", "type": "quantitative"}}},
  {"transform": [{"filter": "datum.g == 'High Mg diet'"}], "mark": {"type": "line", "color": "black", "strokeWidth": 1.2, "strokeDash": [3, 2]}, "encoding": {"x": {"field": "h", "type": "quantitative"}, "y": {"field": "v", "type": "quantitative"}}},
  {"mark": {"type": "rule", "color": "black", "strokeWidth": 1.2}, "encoding": {"x": {"field": "h", "type": "quantitative"}, "y": {"field": "v", "type": "quantitative"}, "y2": {"field": "e"}}},
  {"mark": {"type": "tick", "color": "black", "orient": "horizontal", "size": 7, "thickness": 1.2, "opacity": 1}, "encoding": {"x": {"field": "h", "type": "quantitative"}, "y": {"field": "e", "type": "quantitative"}}},
  {"mark": {"type": "point", "shape": "circle", "filled": true, "size": 60, "stroke": "black", "strokeWidth": 1.2, "opacity": 1}, "encoding": {"x": {"field": "h", "type": "quantitative"}, "y": {"field": "v", "type": "quantitative"}, "fill": {"field": "g", "type": "nominal", "scale": {"domain": ["Control", "High Mg diet"], "range": ["black", "white"]}, "legend": {"title": null, "orient": "none", "legendX": 12, "legendY": -3.5}}}},
  {"data": {"name": "cLa"}, "mark": {"type": "text", "angle": 270, "align": "left", "baseline": "middle", "dx": 3, "fontSize": 13}, "encoding": {"x": {"field": "h", "type": "quantitative"}, "y": {"field": "y", "type": "quantitative"}, "text": {"field": "t"}}}
 ]},
{"width": 276, "height": 204, "data": {"name": "cR"},
 "layer": [
  {"data": {"name": "phase"}, "mark": {"type": "rect", "stroke": "black", "strokeWidth": 1.3},
   "encoding": {"x": {"field": "start", "type": "quantitative", "scale": {"domain": [0, 24], "nice": false, "zero": false}, "axis": {"values": [0,4,8,12,16,20,24], "labelExpr": "datum.value % 12 == 0 ? datum.label : ''", "title": "ZT(hours)", "tickSize": 4, "labelPadding": 1, "titlePadding": 1, "labelFlush": false, "labelOverlap": false}},
    "x2": {"field": "end"},
    "y": {"datum": 60, "type": "quantitative", "scale": {"domain": [60, 123.2], "nice": false, "zero": false}, "axis": {"values": [60,70,80,90,100,110,120], "labelExpr": "datum.value % 20 == 0 ? datum.label : ''", "title": "Diastolic blood pressure (mmHg)", "titlePadding": 2, "labelOverlap": false}},
    "y2": {"datum": 65.4},
    "fill": {"condition": {"test": "datum.phase == 'Dark'", "value": "black"}, "value": "white"}}},
  {"data": {"name": "phase"}, "transform": [{"calculate": "(datum.start + datum.end) / 2", "as": "mid"}], "mark": {"type": "text", "fontSize": 15, "baseline": "middle"},
   "encoding": {"x": {"field": "mid", "type": "quantitative"}, "y": {"datum": 62.7, "type": "quantitative"}, "text": {"field": "phase"}, "color": {"condition": {"test": "datum.phase == 'Dark'", "value": "white"}, "value": "black"}}},
  {"transform": [{"filter": "datum.g == 'Control'"}], "mark": {"type": "line", "color": "black", "strokeWidth": 2}, "encoding": {"x": {"field": "h", "type": "quantitative"}, "y": {"field": "v", "type": "quantitative"}}},
  {"transform": [{"filter": "datum.g == 'High Mg diet'"}], "mark": {"type": "line", "color": "black", "strokeWidth": 1.2, "strokeDash": [3, 2]}, "encoding": {"x": {"field": "h", "type": "quantitative"}, "y": {"field": "v", "type": "quantitative"}}},
  {"mark": {"type": "rule", "color": "black", "strokeWidth": 1.2}, "encoding": {"x": {"field": "h", "type": "quantitative"}, "y": {"field": "v", "type": "quantitative"}, "y2": {"field": "e"}}},
  {"mark": {"type": "tick", "color": "black", "orient": "horizontal", "size": 7, "thickness": 1.2, "opacity": 1}, "encoding": {"x": {"field": "h", "type": "quantitative"}, "y": {"field": "e", "type": "quantitative"}}},
  {"mark": {"type": "point", "shape": "circle", "filled": true, "size": 60, "stroke": "black", "strokeWidth": 1.2, "opacity": 1}, "encoding": {"x": {"field": "h", "type": "quantitative"}, "y": {"field": "v", "type": "quantitative"}, "fill": {"field": "g", "type": "nominal", "scale": {"domain": ["Control", "High Mg diet"], "range": ["black", "white"]}, "legend": {"title": null, "orient": "none", "legendX": 12, "legendY": -3.5}}}},
  {"data": {"name": "cRa"}, "mark": {"type": "text", "angle": 270, "align": "left", "baseline": "middle", "dx": 3, "fontSize": 13}, "encoding": {"x": {"field": "h", "type": "quantitative"}, "y": {"field": "y", "type": "quantitative"}, "text": {"field": "t"}}}
 ]}
],
"config": {
 "font": "Liberation Sans",
 "view": {"stroke": null},
 "axis": {"grid": false, "domainColor": "black", "domainWidth": 1.5, "tickColor": "black", "tickWidth": 1.2, "tickSize": 5, "labelColor": "black", "titleColor": "black", "labelFontSize": 13, "titleFontSize": 13, "titleFontWeight": "normal", "labelPadding": 1, "labelFont": "Liberation Sans", "titleFont": "Liberation Sans"},
 "legend": {"symbolType": "circle", "symbolSize": 170, "symbolStrokeColor": "black", "symbolStrokeWidth": 1.2, "symbolOpacity": 1, "labelFontSize": 13.5, "labelFont": "Liberation Sans", "labelColor": "black", "rowPadding": 4.5, "labelOffset": 3, "padding": 0},
 "text": {"font": "Liberation Sans", "color": "black"},
 "title": {"font": "Liberation Sans"}
}
}
